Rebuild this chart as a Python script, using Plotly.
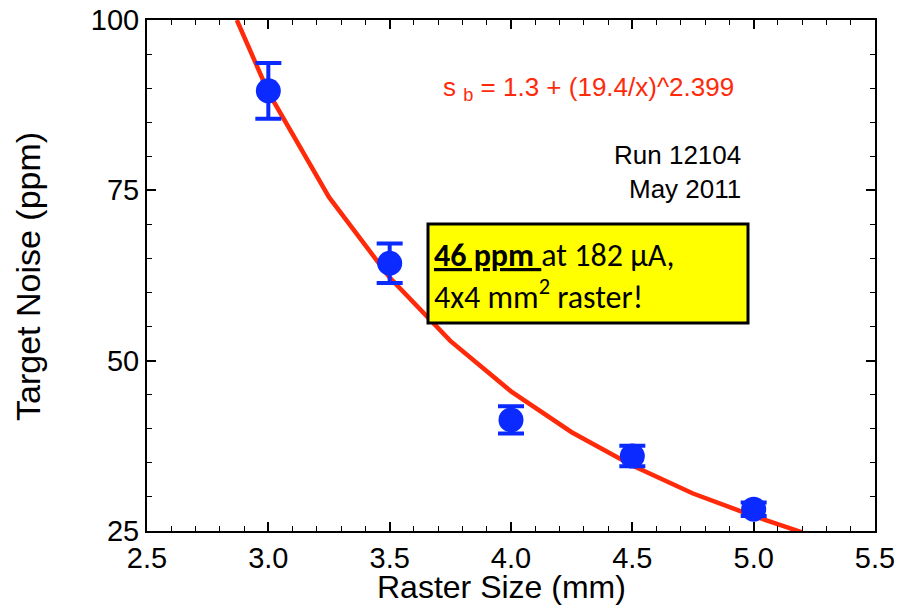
import plotly.graph_objects as go

# Measured data
raster = [3.0, 3.5, 4.0, 4.5, 5.0]
noise = [89.6, 64.3, 41.3, 36.0, 28.2]
noise_err = [4.1, 2.9, 2.0, 1.5, 1.0]

# Fit curve
fit_x = [2.87, 3.0, 3.25, 3.5, 3.75, 4.0, 4.25, 4.5, 4.75, 5.0, 5.2]
fit_y = [100.0, 89.4, 74.0, 62.2, 52.9, 45.5, 39.5, 34.6, 30.5, 27.2, 24.8]

x_ticks = [2.5, 3.0, 3.5, 4.0, 4.5, 5.0, 5.5]
x_tick_labels = ["2.5", "3.0", "3.5", "4.0", "4.5", "5.0", "5.5"]
y_ticks = [25, 50, 75, 100]
y_tick_labels = ["25", "50", "75", "100"]

BLUE = "#0a2aff"
RED = "#ff2a0a"
FONT = "Liberation Sans, Arial, sans-serif"

# plot area in screen pixels (x 147..875, y 20..531); page body adds 8px offset
L, R, T, B = 147, 875, 20, 531
OFF = 8
W, H = 902, 607


def px(x):
    return (x - L) / (R - L)


def py(y):
    return 1 - (y - T) / (B - T)


fig = go.Figure()
fig.add_trace(go.Scatter(
    x=fit_x, y=fit_y, mode="lines",
    line=dict(color=RED, width=4.5), showlegend=False, hoverinfo="skip"))
fig.add_trace(go.Scatter(
    x=raster, y=noise, mode="markers",
    marker=dict(color=BLUE, size=25),
    error_y=dict(type="data", array=noise_err, color=BLUE, thickness=4, width=13),
    showlegend=False))

axis_common = dict(
    showgrid=False, zeroline=False, showline=True, linecolor="black", linewidth=2,
    mirror="ticks", ticks="inside", ticklen=9, tickwidth=1.5, tickcolor="black",
    tickfont=dict(family=FONT, size=29, color="black"), automargin=False,
    ticklabeloverflow="allow",
)
fig.update_xaxes(
    range=[2.5, 5.5], tickvals=x_ticks, ticktext=x_tick_labels,
    minor=dict(ticks="inside", ticklen=5, tickwidth=1.2, tickcolor="black", dtick=0.1),
    **axis_common)
fig.update_yaxes(
    range=[25, 100], tickvals=y_ticks, ticktext=y_tick_labels,
    minor=dict(ticks="inside", ticklen=5, tickwidth=1.2, tickcolor="black", dtick=5),
    **axis_common)

# axis titles
fig.add_annotation(
    xref="paper", yref="paper", x=px(501), y=py(587), xanchor="center", yanchor="middle",
    text="Raster Size (mm)", showarrow=False,
    font=dict(family=FONT, size=32, color="black"))
fig.add_annotation(
    xref="paper", yref="paper", x=px(28), y=py(277), xanchor="center", yanchor="middle",
    text="Target Noise (ppm)", showarrow=False, textangle=-90,
    font=dict(family=FONT, size=34, color="black"))

fig.add_annotation(
    xref="paper", yref="paper", x=px(736), y=py(88), xanchor="right", yanchor="middle",
    text="s <sub>b</sub> = 1.3 + (19.4/x)^2.399", showarrow=False,
    font=dict(family=FONT, size=26, color=RED))
fig.add_annotation(
    xref="paper", yref="paper", x=px(743), y=py(172), xanchor="right", yanchor="middle",
    text="Run 12104<br>May 2011", showarrow=False, align="right",
    font=dict(family=FONT, size=26, color="black"))

fig.add_shape(type="rect", xref="paper", yref="paper",
              x0=px(428), x1=px(748), y0=py(323), y1=py(224),
              fillcolor="#ffff00", line=dict(color="black", width=3), layer="above")
fig.add_annotation(
    xref="paper", yref="paper", x=px(432), y=py(276), xanchor="left", yanchor="middle",
    text="<b><u>46 ppm </u></b>at 182 µA,<br>4x4 mm<sup>2</sup> raster!",
    showarrow=False, align="left",
    font=dict(family="Carlito, Lato, Open Sans, sans-serif", size=32, color="black"))

fig.update_layout(
    width=W, height=H,
    margin=dict(l=L - OFF, r=W - R + OFF, t=T - OFF, b=H - B + OFF),
    paper_bgcolor="white", plot_bgcolor="white",
)
fig.write_html("out.html")
